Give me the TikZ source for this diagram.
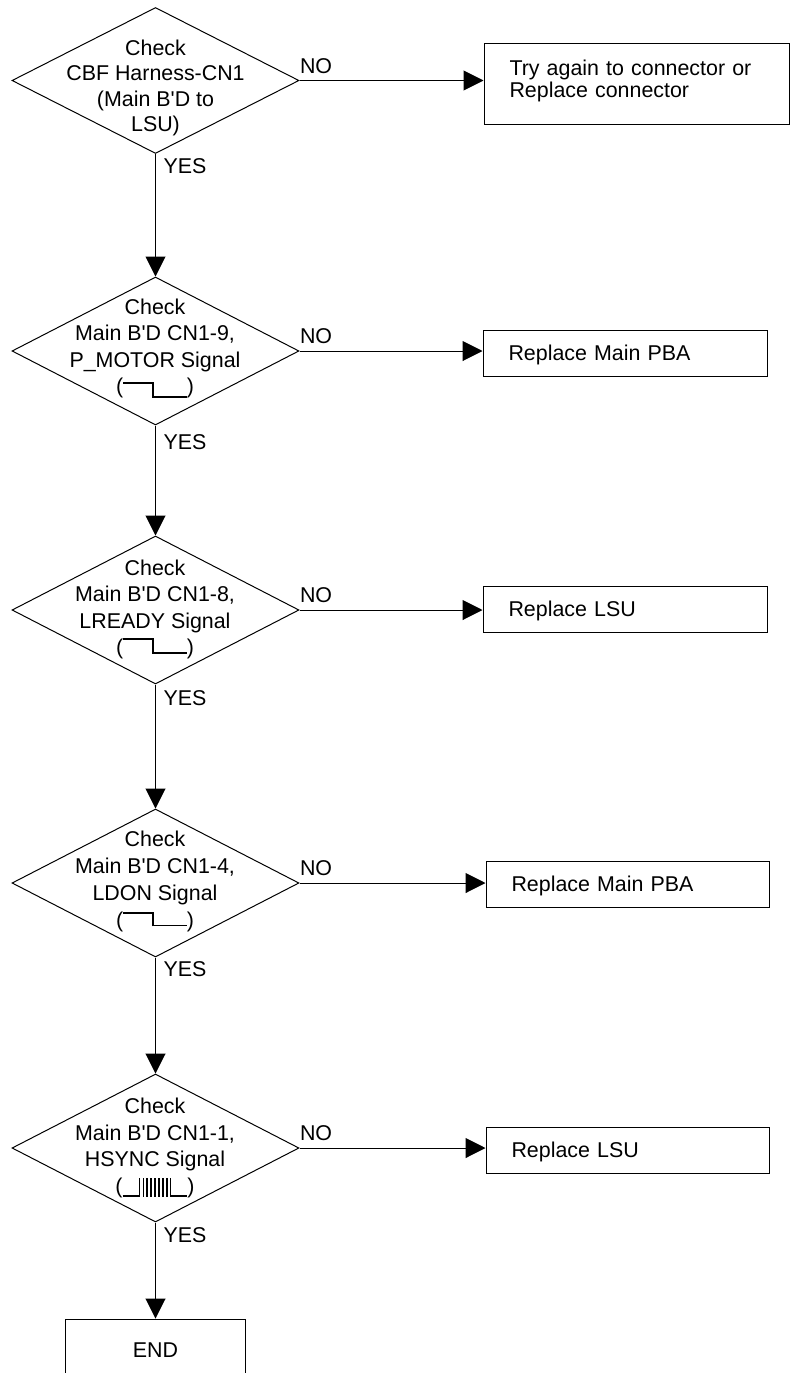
\documentclass[tikz,border=0pt]{standalone}
\usepackage{fontspec}
\newfontfamily\arialf{Liberation Sans}
\usetikzlibrary{shapes.geometric,arrows.meta}
% pulse glyph: #1 = centre of high level, #2 = centre of low level (pt above baseline)
\newcommand{\pulsesig}[2]{%
  \rule[\dimexpr#1pt-0.8pt\relax]{29pt}{1.6pt}%
  \rule[\dimexpr#2pt-0.8pt\relax]{1.6pt}{\dimexpr#1pt-#2pt+1.6pt\relax}%
  \rule[\dimexpr#2pt-0.8pt\relax]{33pt}{1.6pt}}
\newcommand{\combbar}{\rule[-3.6pt]{1.6pt}{18.6pt}}
\newcommand{\combgap}{\hspace{2.3pt}}
\newcommand{\hsyncsig}{%
  \rule[-3.6pt]{16pt}{1.6pt}%
  \combbar\combgap\combbar\combgap\combbar\combgap\combbar\combgap\combbar\combgap
  \combbar\combgap\combbar\combgap\combbar\combgap\combbar%
  \rule[-3.6pt]{16pt}{1.6pt}}
\begin{document}
\begin{tikzpicture}[x=1pt,y=-1pt,line width=1pt,
  every node/.style={font=\arialf\fontsize{21.4}{26.5}\selectfont, inner sep=0pt},
  dia/.style={draw, diamond, minimum width=287pt, minimum height=148pt},
  dtext/.style={anchor=base},
  rbox/.style={draw, rectangle, minimum height=46pt, text height=15.4pt, text depth=0pt, align=left},
  arr/.style={-{Triangle[length=20pt,width=20pt]}},
  lab/.style={anchor=base west}]
\clip (0,0) rectangle (790,1373);

% decision diamonds
\node[dia, minimum height=146pt] (d1) at (155.5,80.5) {};
\node[dia] (d2) at (155.5,351) {};
\node[dia] (d3) at (155.5,610) {};
\node[dia] (d4) at (155.5,883) {};
\node[dia] (d5) at (155.5,1148) {};

% diamond texts
\node[dtext, font=\arialf\fontsize{21.4}{25.5}\selectfont] (t1) at (155.5,55)
  {\begin{tabular}[t]{@{}c@{}}Check\\CBF Harness-CN1\\(Main B'D to\\LSU)\end{tabular}};
\node[dtext] (t2) at (155,314.3)
  {\begin{tabular}[t]{@{}c@{}}Check\\Main B'D CN1-9,\\P\_MOTOR Signal\\(\pulsesig{11}{-2.9})\end{tabular}};
\node[dtext] (t3) at (155,575)
  {\begin{tabular}[t]{@{}c@{}}Check\\Main B'D CN1-8,\\LREADY Signal\\(\pulsesig{15.8}{1.8})\end{tabular}};
\node[dtext, font=\arialf\fontsize{21.4}{27}\selectfont] (t4) at (155,846.7)
  {\begin{tabular}[t]{@{}c@{}}Check\\Main B'D CN1-4,\\LDON Signal\\(\pulsesig{14.5}{2.2})\end{tabular}};
\node[dtext] (t5) at (155,1113.5)
  {\begin{tabular}[t]{@{}c@{}}Check\\Main B'D CN1-1,\\HSYNC Signal\\(\hsyncsig)\end{tabular}};

% action boxes
\node[rbox, minimum width=305pt, minimum height=81pt, text width=254pt, text height=0pt, text depth=15.6pt,
      font=\arialf\fontsize{21.4}{21.6}\selectfont] (r1) at (636.5,83.5)
  {\begin{tabular}[t]{@{}l@{}}Try again to connector or\\Replace connector\end{tabular}};
\node[rbox, minimum width=284pt, text width=233pt] (r2) at (625,353) {Replace Main PBA};
\node[rbox, minimum width=284pt, text width=233pt] (r3) at (625,609) {Replace LSU};
\node[rbox, minimum width=283pt, text width=232pt] (r4) at (627.5,884) {Replace Main PBA};
\node[rbox, minimum width=283pt, text width=232pt] (r5) at (627.5,1150) {Replace LSU};
\node[rbox, minimum width=180pt, minimum height=62pt] (end) at (155.5,1350) {END};

% YES connectors
\draw[arr] (d1.south) -- (d2.north);
\draw[arr] (d2.south) -- (d3.north);
\draw[arr] (d3.south) -- (d4.north);
\draw[arr] (d4.south) -- (d5.north);
\draw[arr] (d5.south) -- (d5.south |- end.north);

% NO connectors
\draw[arr] (d1.east) -- (d1.east -| r1.west);
\draw[arr] (d2.east) -- (d2.east -| r2.west);
\draw[arr] (d3.east) -- (d3.east -| r3.west);
\draw[arr] (d4.east) -- (d4.east -| r4.west);
\draw[arr] (d5.east) -- (d5.east -| r5.west);

% labels
\node[lab] (no1) at ([shift={(0,-7.5)}]d1.east) {NO};
\node[lab] (no2) at ([shift={(0,-7.5)}]d2.east) {NO};
\node[lab] (no3) at ([shift={(0,-7.5)}]d3.east) {NO};
\node[lab] (no4) at ([shift={(0,-7.5)}]d4.east) {NO};
\node[lab] (no5) at ([shift={(0,-7.5)}]d5.east) {NO};
\node[lab] (yes1) at ([shift={(7.5,19)}]d1.south) {YES};
\node[lab] (yes2) at ([shift={(7.5,24)}]d2.south) {YES};
\node[lab] (yes3) at ([shift={(7.5,21)}]d3.south) {YES};
\node[lab] (yes4) at ([shift={(7.5,19)}]d4.south) {YES};
\node[lab] (yes5) at ([shift={(7.5,20)}]d5.south) {YES};
\end{tikzpicture}
\end{document}
